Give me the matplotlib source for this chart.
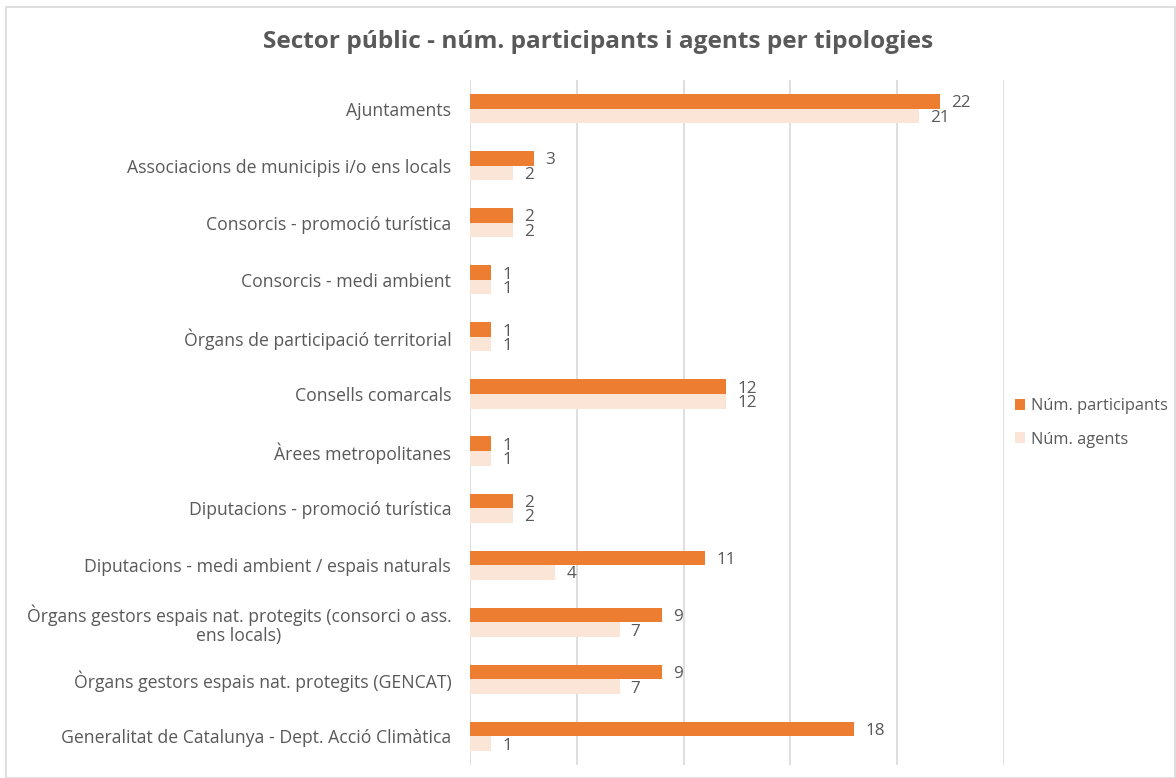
import matplotlib
matplotlib.use("Agg")
import matplotlib.pyplot as plt
from matplotlib.patches import Rectangle
import numpy as np

categories = [
    "Ajuntaments",
    "Associacions de municipis i/o ens locals",
    "Consorcis - promoció turística",
    "Consorcis - medi ambient",
    "Òrgans de participació territorial",
    "Consells comarcals",
    "Àrees metropolitanes",
    "Diputacions - promoció turística",
    "Diputacions - medi ambient / espais naturals",
    "Òrgans gestors espais nat. protegits (consorci o ass.\nens locals)",
    "Òrgans gestors espais nat. protegits (GENCAT)",
    "Generalitat de Catalunya - Dept. Acció Climàtica",
]
participants = [22, 3, 2, 1, 1, 12, 1, 2, 11, 9, 9, 18]
agents = [21, 2, 2, 1, 1, 12, 1, 2, 4, 7, 7, 1]
series_names = ["Núm. participants", "Núm. agents"]

ORANGE = "#ED7D31"
PALE = "#FBE5D6"
TXT = "#595959"
GRID = "#D9D9D9"

plt.rcParams['font.family'] = ['Open Sans', 'DejaVu Sans']

W, H = 1176, 778
fig = plt.figure(figsize=(W/100, H/100), dpi=100)
fig.patches.append(Rectangle((6/W, 0), 1 - 7/W, 1 - 7/H, transform=fig.transFigure,
                             fill=False, edgecolor=GRID, linewidth=1.2))

ax = fig.add_axes([470/W, 1 - 765/H, (1004-470)/W, (765-80)/H])
y = np.arange(len(categories))
h = 0.255
b1 = ax.barh(y - h/2, participants, height=h, color=ORANGE, label=series_names[0], zorder=3)
b2 = ax.barh(y + h/2, agents, height=h, color=PALE, label=series_names[1], zorder=3)

ax.set_xlim(0, 25)
ax.set_ylim(len(categories) - 0.5, -0.5)
ax.set_xticks([0, 5, 10, 15, 20, 25])
ax.xaxis.grid(True, color=GRID, linewidth=1.2, zorder=0)
ax.tick_params(axis='x', length=0, labelbottom=False)
ax.tick_params(axis='y', length=0, pad=13.5, labelsize=12.7, labelcolor=TXT)
ax.set_yticks(y)
ax.set_yticklabels(categories)
for lab in ax.get_yticklabels():
    lab.set_multialignment('center')
    lab.set_linespacing(1.05)
for s in ax.spines.values():
    s.set_visible(False)

for bars in (b1, b2):
    labs = ax.bar_label(bars, padding=8, fontsize=12.3, color=TXT)
    for t in labs:
        t.set_y(t.get_position()[1])
        t.set_va('center_baseline')

fig.text(598/W, 1 - 42/H, "Sector públic - núm. participants i agents per tipologies",
         ha='center', va='center', fontsize=17.6, fontweight='bold', color=TXT)

leg = fig.legend(handles=[b1, b2], labels=series_names, loc='center left',
                 bbox_to_anchor=(1000/W, 1 - 423/H), frameon=False, fontsize=11.8,
                 handlelength=0.65, handleheight=0.65, handletextpad=0.35, labelspacing=1.05)
for t in leg.get_texts():
    t.set_color(TXT)

fig.savefig("out.png", dpi=100)
